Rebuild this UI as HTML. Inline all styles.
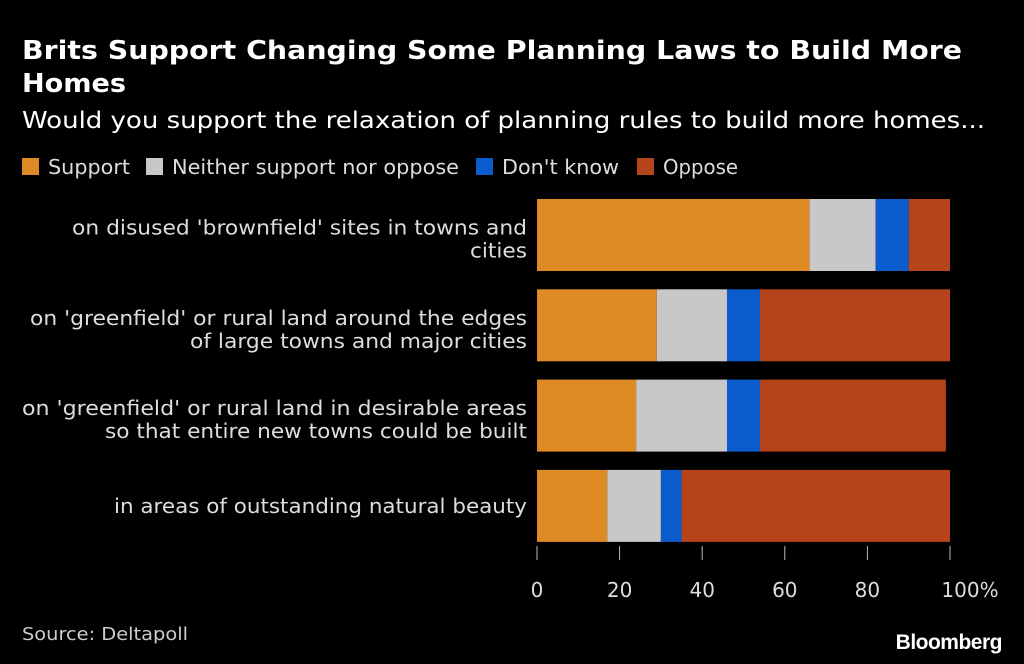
<!DOCTYPE html>
<html><head><meta charset="utf-8"><style>
html,body{margin:0;padding:0;background:#000;}
svg{display:block;font-family:"DejaVu Sans","Liberation Sans",sans-serif;}
</style></head><body>
<svg id="chart" width="1024" height="664" viewBox="0 0 1024 664">
<rect width="1024" height="664" fill="#000"/>
<text x="22" y="59" fill="#fff" font-size="26" font-weight="bold" textLength="940" lengthAdjust="spacingAndGlyphs">Brits Support Changing Some Planning Laws to Build More</text>
<text x="22" y="92" fill="#fff" font-size="26" font-weight="bold" textLength="104" lengthAdjust="spacingAndGlyphs">Homes</text>
<text x="22" y="128" fill="#fff" font-size="23" textLength="963" lengthAdjust="spacingAndGlyphs">Would you support the relaxation of planning rules to build more homes...</text>
<g id="legend"></g>
<g id="labels"></g>
<g id="bars"></g>
<g id="axis"></g>
<text x="22" y="640" fill="#ccc" font-size="18" textLength="166" lengthAdjust="spacingAndGlyphs">Source: Deltapoll</text>
<text x="1002" y="649" fill="#fff" font-size="21" font-weight="bold" text-anchor="end" font-family="Liberation Sans, sans-serif" letter-spacing="-0.5">Bloomberg</text>
</svg>
<script>
const categories = [
  ["on disused 'brownfield' sites in towns and", "cities"],
  ["on 'greenfield' or rural land around the edges", "of large towns and major cities"],
  ["on 'greenfield' or rural land in desirable areas", "so that entire new towns could be built"],
  ["in areas of outstanding natural beauty"]
];
const labelWidths = [[455, 57], [497, 337], [505, 422], [413]];
const seriesNames = ["Support", "Neither support nor oppose", "Don't know", "Oppose"];
const seriesColors = ["#e08a26", "#c8c8c8", "#0a5ccc", "#b5441d"];
const support = [66, 29, 24, 17];
const neither = [16, 17, 22, 13];
const dontKnow = [8, 8, 8, 5];
const oppose = [10, 46, 45, 65];
const ticks = [0, 20, 40, 60, 80, 100];
const tickLabels = ["0", "20", "40", "60", "80", "100%"];

const NS = "http://www.w3.org/2000/svg";
const x0 = 537, x1 = 950;
const xs = v => x0 + (x1 - x0) * v / 100;
const rowTop = i => 199 + i * 90.3;
const barH = 72;
function mk(tag, attrs, parent) {
  const e = document.createElementNS(NS, tag);
  for (const k in attrs) e.setAttribute(k, attrs[k]);
  parent.appendChild(e);
  return e;
}
const lg = document.getElementById('legend');
const legX = [22, 146, 476, 637];
const legW = [82, 287, 117, 75];
seriesNames.forEach((n, i) => {
  const r = mk('rect', {x: legX[i], y: 158, width: 17, height: 17, fill: seriesColors[i]}, lg);
  
  
  const t = mk('text', {x: legX[i] + 26, y: 174, fill: '#ddd', 'font-size': 20, textLength: legW[i], lengthAdjust: 'spacingAndGlyphs'}, lg);
  
  
  t.textContent = n;
});
const lb = document.getElementById('labels');
categories.forEach((lines, i) => {
  const cy = rowTop(i) + barH / 2;
  lines.forEach((s, j) => {
    const off = lines.length > 1 ? 11 : 7;
    const y = cy + off + (j - (lines.length - 1) / 2) * 23;
    const t = mk('text', {x: 527, y: y, fill: '#ddd', 'font-size': 20, 'text-anchor': 'end', textLength: labelWidths[i][j], lengthAdjust: 'spacingAndGlyphs'}, lb);
    
    
    t.textContent = s;
  });
});
const bg = document.getElementById('bars');
const series = [support, neither, dontKnow, oppose];
categories.forEach((c, i) => {
  let acc = 0;
  series.forEach((arr, s) => {
    const v = arr[i];
    const r = mk('rect', {x: xs(acc), y: rowTop(i), width: xs(acc + v) - xs(acc), height: barH, fill: seriesColors[s]}, bg);
    
    
    acc += v;
  });
});
const ax = document.getElementById('axis');
ticks.forEach((v, i) => {
  const l = mk('line', {x1: xs(v), x2: xs(v), y1: 546, y2: 560, stroke: '#bbb', 'stroke-width': 1}, ax);
  
  
  const t = mk('text', {x: xs(v) + (i === ticks.length - 1 ? 20 : 0), y: 597, fill: '#ddd', 'font-size': 20, 'text-anchor': 'middle'}, ax);
  
  
  t.textContent = tickLabels[i];
});
</script>
</body></html>
